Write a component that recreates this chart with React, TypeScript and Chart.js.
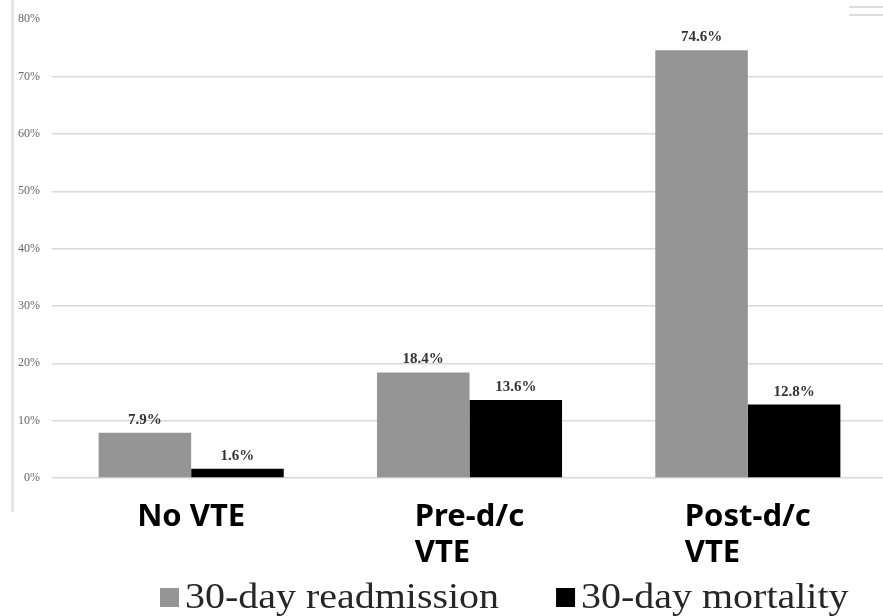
import React, { useEffect, useRef } from "react";
import { Chart, registerables } from "chart.js";

Chart.register(...registerables);

const categories: string[][] = [["No VTE"], ["Pre-d/c", "VTE"], ["Post-d/c", "VTE"]];
const readmission = [7.9, 18.4, 74.6];
const mortality = [1.6, 13.6, 12.8];
const seriesNames = ["30-day readmission", "30-day mortality"];
const seriesColors = ["#959595", "#000000"];
const yTickValues = [0, 10, 20, 30, 40, 50, 60, 70, 80];

const decorPlugin = {
  id: "decor",
  beforeDraw(chart: any) {
    const ctx = chart.ctx;
    ctx.save();
    ctx.fillStyle = "#e6e6e6";
    ctx.fillRect(11, 0, 3, 512);
    ctx.fillStyle = "#dddddd";
    ctx.fillRect(849, 6, 40, 2);
    ctx.fillRect(849, 14, 40, 2);
    ctx.restore();
  },
  afterDatasetsDraw(chart: any) {
    const ctx = chart.ctx;
    ctx.save();
    ctx.font = "bold 15px 'Liberation Serif'";
    ctx.fillStyle = "#333333";
    ctx.textAlign = "center";
    ctx.textBaseline = "alphabetic";
    chart.data.datasets.forEach((ds: any, di: number) => {
      const meta = chart.getDatasetMeta(di);
      meta.data.forEach((el: any, i: number) => {
        ctx.fillText(ds.data[i].toFixed(1) + "%", el.x, el.y - 9);
      });
    });
    ctx.restore();
  },
  afterDraw(chart: any) {
    const ctx = chart.ctx;
    const xs = chart.scales.x;
    ctx.save();
    // category labels
    ctx.font = "bold 31px 'Noto Sans'";
    ctx.fillStyle = "#000000";
    ctx.textBaseline = "alphabetic";
    ctx.textAlign = "left";
    categories.forEach((lines, i) => {
      const cx = xs.getPixelForValue(i);
      const w0 = ctx.measureText(lines[0]).width;
      const left = cx - w0 / 2;
      lines.forEach((line, li) => {
        ctx.fillText(line, left, 526 + li * 36);
      });
    });
    // legend
    const sx = 1.11;
    ctx.font = "36px 'Liberation Serif'";
    let x = 160;
    seriesNames.forEach((name, i) => {
      ctx.fillStyle = seriesColors[i];
      ctx.fillRect(x, 588, 19, 19);
      x += 25;
      ctx.save();
      ctx.translate(x, 608);
      ctx.scale(sx, 1);
      ctx.fillStyle = "#262626";
      ctx.fillText(name, 0, 0);
      ctx.restore();
      x += ctx.measureText(name).width * sx + 57;
    });
    ctx.restore();
  },
};

export default function App() {
  const canvasRef = useRef<HTMLCanvasElement | null>(null);
  useEffect(() => {
    if (!canvasRef.current) return;
    const chart = new Chart(canvasRef.current, {
      type: "bar",
      data: {
        labels: categories.map((c) => c.join(" ")),
        datasets: [
          {
            label: seriesNames[0],
            data: readmission,
            backgroundColor: seriesColors[0],
            categoryPercentage: 0.665,
            barPercentage: 1,
          },
          {
            label: seriesNames[1],
            data: mortality,
            backgroundColor: seriesColors[1],
            categoryPercentage: 0.665,
            barPercentage: 1,
          },
        ],
      },
      options: {
        animation: false,
        responsive: true,
        maintainAspectRatio: false,
        layout: { padding: { top: 15, bottom: 138, left: 0, right: 3 } },
        plugins: {
          legend: { display: false },
          tooltip: { enabled: false },
          title: { display: false },
        },
        scales: {
          x: {
            display: false,
            offset: true,
            grid: { display: false },
          },
          y: {
            min: 0,
            max: 80,
            afterFit: (scale: any) => {
              scale.width = 52;
            },
            afterBuildTicks: (scale: any) => {
              scale.ticks = yTickValues.map((v) => ({ value: v }));
            },
            border: { display: false },
            grid: {
              drawTicks: false,
              lineWidth: 1.5,
              color: (c: any) => (c.tick && c.tick.value === 80 ? "rgba(0,0,0,0)" : "#d9d9d9"),
            },
            ticks: {
              padding: 12,
              color: "#666666",
              font: { family: "'Liberation Serif'", size: 12 },
              callback: (v: any) => v + "%",
            },
          },
        },
      },
      plugins: [decorPlugin],
    });
    return () => chart.destroy();
  }, []);
  return (
    <div style={{ position: "fixed", left: 0, top: 0, width: 883, height: 616, overflow: "hidden", background: "#fff" }}>
      <div style={{ position: "relative", width: 890, height: 616 }}>
        <canvas ref={canvasRef} />
      </div>
    </div>
  );
}
